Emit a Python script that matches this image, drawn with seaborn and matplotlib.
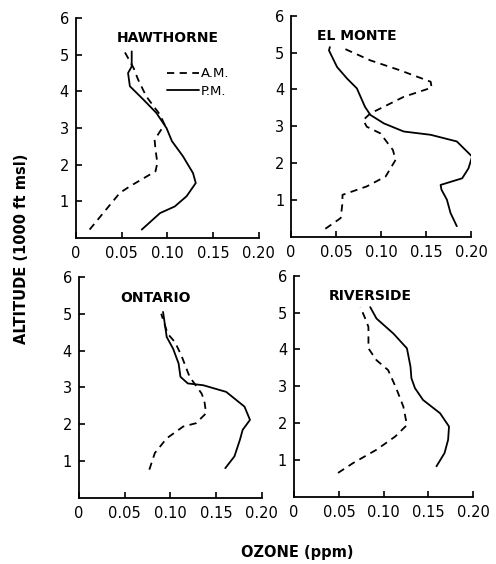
import pandas as pd
import matplotlib
matplotlib.use('Agg')
import matplotlib.pyplot as plt
import seaborn as sns

# ozone (ppm) vs altitude (1000 ft msl)
hawthorneAmOzone = [0.015, 0.048, 0.059, 0.087, 0.089, 0.087, 0.086, 0.092, 0.097, 0.092, 0.077, 0.068, 0.063, 0.053]
hawthorneAmAlt = [0.23, 1.23, 1.41, 1.82, 2.05, 2.41, 2.68, 2.91, 3.09, 3.36, 3.86, 4.32, 4.64, 5.09]
hawthornePmOzone = [0.072, 0.092, 0.108, 0.121, 0.131, 0.128, 0.117, 0.105, 0.099, 0.088, 0.074, 0.059, 0.057, 0.061, 0.061]
hawthornePmAlt = [0.23, 0.68, 0.86, 1.14, 1.50, 1.77, 2.23, 2.64, 3.00, 3.41, 3.77, 4.14, 4.50, 4.68, 5.09]

elMonteAmOzone = [0.038, 0.055, 0.057, 0.057, 0.084, 0.105, 0.116, 0.113, 0.099, 0.084, 0.080, 0.088, 0.125, 0.156, 0.155, 0.121, 0.088, 0.057]
elMonteAmAlt = [0.22, 0.51, 0.92, 1.14, 1.37, 1.64, 2.09, 2.36, 2.81, 2.99, 3.17, 3.35, 3.80, 4.05, 4.21, 4.52, 4.79, 5.13]
elMontePmOzone = [0.184, 0.177, 0.173, 0.167, 0.166, 0.190, 0.197, 0.201, 0.184, 0.155, 0.125, 0.103, 0.088, 0.082, 0.073, 0.062, 0.051, 0.042, 0.043]
elMontePmAlt = [0.29, 0.65, 1.01, 1.28, 1.41, 1.59, 1.86, 2.18, 2.59, 2.77, 2.86, 3.08, 3.31, 3.53, 4.03, 4.30, 4.61, 5.06, 5.15]

ontarioAmOzone = [0.077, 0.083, 0.096, 0.114, 0.128, 0.139, 0.137, 0.134, 0.121, 0.112, 0.105, 0.097, 0.090]
ontarioAmAlt = [0.77, 1.22, 1.62, 1.94, 2.03, 2.30, 2.66, 2.84, 3.29, 3.87, 4.23, 4.46, 5.00]
ontarioPmOzone = [0.160, 0.170, 0.176, 0.179, 0.187, 0.181, 0.161, 0.136, 0.119, 0.111, 0.109, 0.103, 0.096, 0.092]
ontarioPmAlt = [0.81, 1.13, 1.58, 1.85, 2.12, 2.48, 2.88, 3.06, 3.11, 3.29, 3.65, 4.05, 4.37, 5.05]

riversideAmOzone = [0.049, 0.066, 0.092, 0.113, 0.126, 0.122, 0.114, 0.105, 0.092, 0.083, 0.083, 0.081, 0.074]
riversideAmAlt = [0.65, 0.92, 1.28, 1.64, 1.95, 2.45, 2.95, 3.44, 3.71, 4.03, 4.61, 4.75, 5.15]
riversidePmOzone = [0.159, 0.168, 0.172, 0.173, 0.163, 0.144, 0.135, 0.131, 0.130, 0.126, 0.111, 0.092, 0.085]
riversidePmAlt = [0.83, 1.19, 1.55, 1.91, 2.27, 2.63, 2.95, 3.22, 3.53, 4.03, 4.43, 4.84, 5.15]

stations = ['HAWTHORNE', 'EL MONTE', 'ONTARIO', 'RIVERSIDE']
periods = ['A.M.', 'P.M.']
xTicks = [0, 0.05, 0.10, 0.15, 0.20]
xTickLabels = ['0', '0.05', '0.10', '0.15', '0.20']
yTicks = [1, 2, 3, 4, 5, 6]


def buildFrame():
    series = {
        'HAWTHORNE': [(hawthorneAmOzone, hawthorneAmAlt), (hawthornePmOzone, hawthornePmAlt)],
        'EL MONTE': [(elMonteAmOzone, elMonteAmAlt), (elMontePmOzone, elMontePmAlt)],
        'ONTARIO': [(ontarioAmOzone, ontarioAmAlt), (ontarioPmOzone, ontarioPmAlt)],
        'RIVERSIDE': [(riversideAmOzone, riversideAmAlt), (riversidePmOzone, riversidePmAlt)],
    }
    rows = []
    for station in stations:
        for period, (ozone, alt) in zip(periods, series[station]):
            for o, a in zip(ozone, alt):
                rows.append({'station': station, 'period': period, 'ozone': o, 'altitude': a})
    return pd.DataFrame(rows)


df = buildFrame()

sns.set_style('ticks', {'axes.edgecolor': 'black', 'xtick.color': 'black',
                        'ytick.color': 'black', 'text.color': 'black'})
plt.rcParams['font.family'] = ['DejaVu Sans']

fig = plt.figure(figsize=(4.96, 5.64), dpi=100)
# hand-placed panels, like the original drawing
rects = [
    [0.153, 0.578, 0.369, 0.390],
    [0.587, 0.580, 0.363, 0.392],
    [0.159, 0.117, 0.369, 0.392],
    [0.593, 0.119, 0.361, 0.392],
]
labelPos = [(0.045, 5.45), (0.029, 5.45), (0.045, 5.42), (0.039, 5.45)]

for station, rect, pos in zip(stations, rects, labelPos):
    ax = fig.add_axes(rect)
    sub = df[df['station'] == station]
    sns.lineplot(data=sub, x='ozone', y='altitude', style='period', style_order=periods,
                 dashes={'A.M.': (4, 3), 'P.M.': ''}, color='black', linewidth=1.3,
                 sort=False, estimator=None, legend=False, ax=ax)
    ax.set_xlim(0, 0.20)
    ax.set_ylim(0, 6)
    ax.set_xticks(xTicks)
    ax.set_xticklabels(xTickLabels)
    ax.set_yticks(yTicks)
    ax.tick_params(direction='in', length=4, width=1.2, labelsize=10.5, pad=6,
                   colors='black', labelcolor='black')
    ax.tick_params(axis='y', pad=5)
    for side in ['top', 'right']:
        ax.spines[side].set_visible(False)
    for side in ['left', 'bottom']:
        ax.spines[side].set_linewidth(1.3)
        ax.spines[side].set_color('black')
    ax.set_xlabel('')
    ax.set_ylabel('')
    ax.text(pos[0], pos[1], station, fontsize=10, fontweight='bold', ha='left', va='center',
            color='black')

    if station == 'HAWTHORNE':
        lines = ax.get_lines()[:2]
        ax.legend(lines, periods, loc='upper left', bbox_to_anchor=(0.47, 0.80),
                  frameon=False, handlelength=2.4, handletextpad=0.15,
                  labelspacing=0.35, fontsize=9.5, borderaxespad=0, labelcolor='black')

fig.text(0.044, 0.558, 'ALTITUDE (1000 ft msl)', rotation=90, ha='center', va='center',
         fontsize=10.5, fontweight='bold', color='black')
fig.text(0.60, 0.02, 'OZONE (ppm)', ha='center', va='center', fontsize=10.5,
         fontweight='bold', color='black')

fig.savefig('out.png', dpi=100)
